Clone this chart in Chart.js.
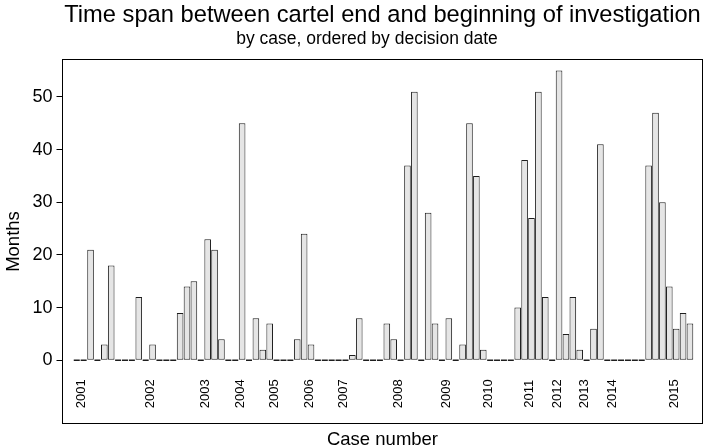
<!DOCTYPE html>
<html>
<head>
<meta charset="utf-8">
<script src="https://cdn.jsdelivr.net/npm/chart.js@4.4.0/dist/chart.umd.min.js"></script>
<style>
  html, body { margin: 0; padding: 0; background: #fff; }
  #wrap { width: 708px; height: 448px; }
</style>
</head>
<body>
<div id="wrap"><canvas id="spanChart"></canvas></div>
<script>
// months between cartel end and start of investigation, one value per case
const months = [
  0, 0, 21, 0, 3, 18, 0, 0, 0, 12,
  0, 3, 0, 0, 0, 9, 14, 15, 0, 23,
  21, 4, 0, 0, 45, 0, 8, 2, 7, 0,
  0, 0, 4, 24, 3, 0, 0, 0, 0, 0,
  1, 8, 0, 0, 0, 7, 4, 0, 37, 51,
  0, 28, 7, 0, 8, 0, 3, 45, 35, 2,
  0, 0, 0, 0, 10, 38, 27, 51, 12, 0,
  55, 5, 12, 2, 0, 6, 41, 0, 0, 0,
  0, 0, 0, 37, 47, 30, 14, 6, 9, 7,
];

// case numbers (1..n, ordered by decision date)
const caseIds = months.map((v, i) => i + 1);

// year labels and the case they sit under
const yearLabels = ["2001", "2002", "2003", "2004", "2005", "2006", "2007", "2008",
  "2009", "2010", "2011", "2012", "2013", "2014", "2015"];
const yearCases = [2, 12, 20, 25, 30, 35, 40, 48, 55, 61, 67, 71, 75, 79, 88];

const yTicks = [0, 10, 20, 30, 40, 50];

const fontFamily = "'Liberation Sans', Arial, Helvetica, sans-serif";
const barFill = "#e5e5e5";
const barLine = "#1e1e1e";
const yearLabelAt = -6.36; // months, below the zero line
const subtitleText = "by case, ordered by decision date";

// box round the plot region
const plotBox = {
  id: "plotBox",
  afterDatasetsDraw(chart) {
    const { ctx, chartArea } = chart;
    ctx.save();
    ctx.strokeStyle = "#000";
    ctx.lineWidth = 1;
    ctx.strokeRect(chartArea.left, chartArea.top,
      chartArea.right - chartArea.left, chartArea.bottom - chartArea.top);
    ctx.restore();
  },
};

// rotated year labels inside the plot
const yearText = {
  id: "yearText",
  afterDatasetsDraw(chart) {
    const { ctx, scales } = chart;
    const y = scales.y.getPixelForValue(yearLabelAt);
    ctx.save();
    ctx.fillStyle = "#000";
    ctx.font = "13px " + fontFamily;
    ctx.textAlign = "center";
    ctx.textBaseline = "middle";
    yearLabels.forEach((label, i) => {
      const x = scales.x.getPixelForValue(yearCases[i]) - 2;
      ctx.save();
      ctx.translate(x, y);
      ctx.rotate(-Math.PI / 2);
      ctx.fillText(label, 0, 0);
      ctx.restore();
    });
    ctx.restore();
  },
};

// subtitle sits a bit left of the plot centre in the original
const subText = {
  id: "subText",
  afterDraw(chart) {
    const { ctx, chartArea } = chart;
    ctx.save();
    ctx.fillStyle = "#000";
    ctx.font = "17.5px " + fontFamily;
    ctx.textAlign = "center";
    ctx.textBaseline = "alphabetic";
    ctx.fillText(subtitleText, (chartArea.left + chartArea.right) / 2 - 15.5, chartArea.top - 16);
    ctx.restore();
  },
};

const spanCtx = document.querySelector("#spanChart");

new Chart(spanCtx, {
  type: "bar",
  data: {
    datasets: [
      {
        data: caseIds.map((id, i) => ({ x: id, y: months[i] })),
        backgroundColor: barFill,
        borderColor: barLine,
        borderWidth: 1,
        borderSkipped: false,
        barPercentage: 0.96,
        categoryPercentage: 1,
      },
      {
        // zero-length bars show up as a flat dash
        type: "scatter",
        data: caseIds
          .filter((id, i) => months[i] === 0)
          .map((id) => ({ x: id, y: 0 })),
        pointStyle: "line",
        pointRadius: 3,
        pointHoverRadius: 3,
        borderColor: barLine,
        pointBorderWidth: 1.5,
      },
    ],
  },
  options: {
    responsive: true,
    maintainAspectRatio: false,
    animation: false,
    events: [],
    layout: {
      padding: { right: 5.5 },
    },
    scales: {
      x: {
        type: "linear",
        min: -1.07,
        max: 91.82,
        offset: false,
        grid: { display: false },
        border: { display: false },
        ticks: { display: false },
        title: {
          display: true,
          text: "Case number",
          color: "#000",
          font: { family: fontFamily, size: 18.5, lineHeight: 0.84 },
          padding: { top: 0, bottom: 0 },
        },
        afterFit(scale) {
          scale.height = 24.5;
        },
      },
      y: {
        min: -12,
        max: 57.1,
        afterBuildTicks(scale) {
          scale.ticks = yTicks.map((v) => ({ value: v }));
        },
        grid: {
          drawOnChartArea: false,
          drawTicks: true,
          tickLength: 6,
          color: "#000",
        },
        border: { display: false },
        ticks: {
          color: "#000",
          padding: 4,
          font: { family: fontFamily, size: 18 },
        },
        title: {
          display: true,
          text: "Months",
          color: "#000",
          font: { family: fontFamily, size: 18.5, lineHeight: 1.2 },
          padding: { top: 2.6, bottom: 0 },
        },
        afterFit(scale) {
          scale.width = 62.5;
        },
      },
    },
    plugins: {
      legend: { display: false },
      tooltip: { enabled: false },
      title: {
        display: true,
        fullSize: false,
        text: "Time span between cartel end and beginning of investigation",
        color: "#000",
        font: { family: fontFamily, size: 23.7, weight: "normal", lineHeight: 1 },
        padding: { top: 3.3, bottom: 32.5 },
      },
    },
  },
  plugins: [plotBox, yearText, subText],
});
</script>
</body>
</html>
